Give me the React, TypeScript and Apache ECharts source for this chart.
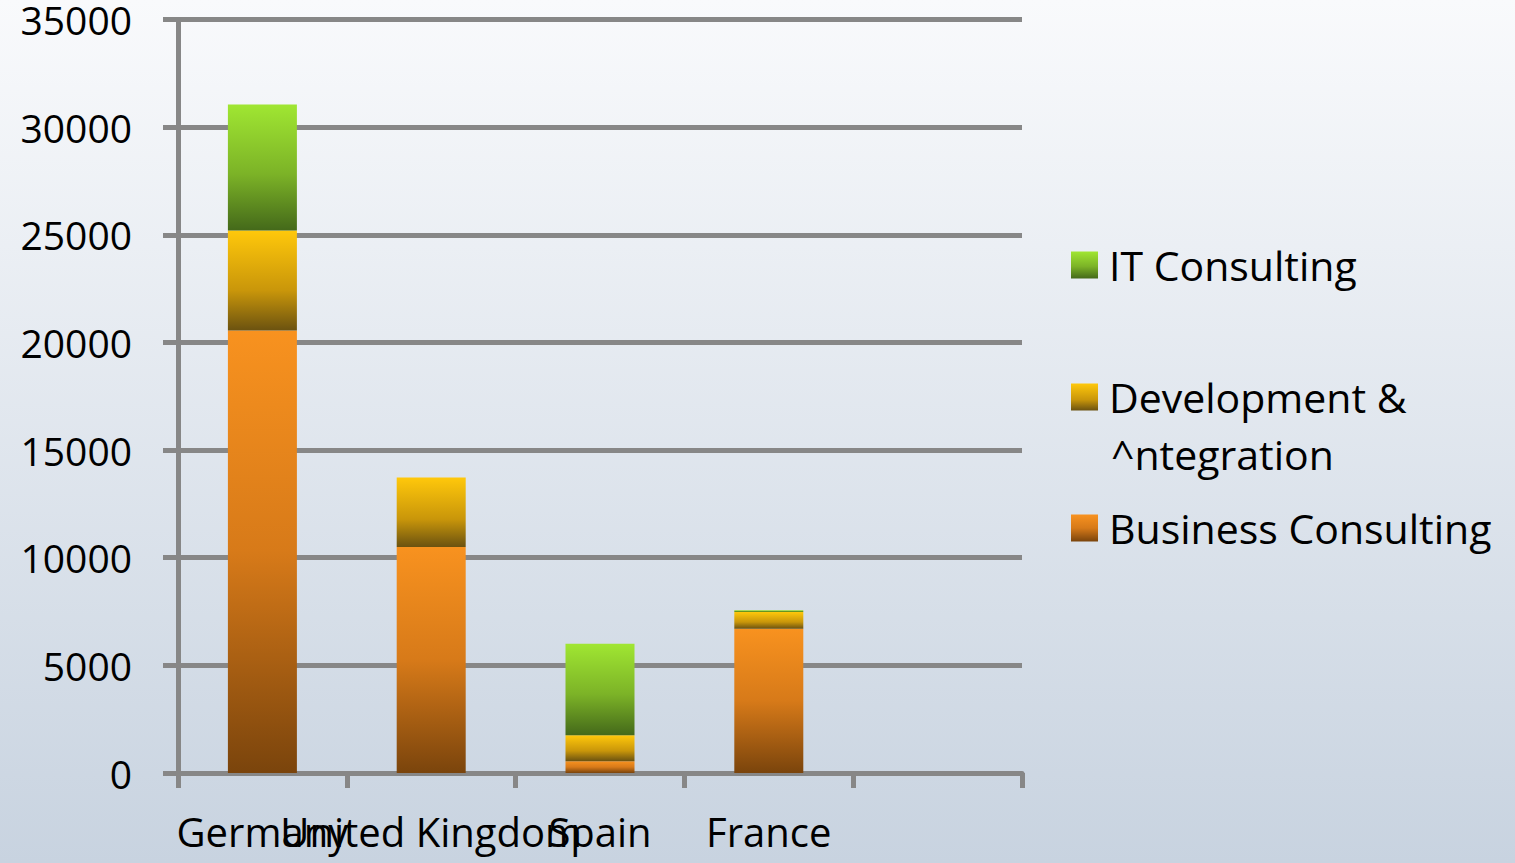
import React, { useEffect, useRef } from "react";
import * as echarts from "echarts";

const categories = ["Germany", "United Kingdom", "Spain", "France", ""];
const businessConsulting = [20550, 10500, 550, 6700];
const devIntegration = [4650, 3230, 1200, 780];
const itConsulting = [5850, 0, 4250, 80];
const yTicks = { min: 0, max: 35000, interval: 5000 };

const FONT = "'Open Sans', 'Noto Sans', sans-serif";

const grad = (stops: [number, string][]) =>
  new echarts.graphic.LinearGradient(
    0,
    0,
    0,
    1,
    stops.map(([offset, color]) => ({ offset, color }))
  );

export default function App() {
  const ref = useRef<HTMLDivElement>(null);
  useEffect(() => {
    if (!ref.current) return;
    const chart = echarts.init(ref.current, null, { renderer: "svg" });
    const bcColor = grad([
      [0, "#f8921f"],
      [0.5, "#d77a19"],
      [1, "#7a440c"],
    ]);
    const devColor = grad([
      [0, "#ffc80b"],
      [0.6, "#c9960a"],
      [1, "#6b5210"],
    ]);
    const itColor = grad([
      [0, "#a0e632"],
      [0.55, "#7cb327"],
      [1, "#44691a"],
    ]);
    const legendBase = {
      left: 1071,
      orient: "vertical",
      itemWidth: 27,
      itemHeight: 27,
      icon: "rect",
      padding: 0,
      selectedMode: false,
      textStyle: {
        fontSize: 41,
        fontFamily: FONT,
        color: "#000",
        lineHeight: 50,
        padding: [0, 0, 0, 6],
      },
    };
    chart.setOption({
      animation: false,
      backgroundColor: grad([
        [0, "#f9fafc"],
        [1, "#c8d3e0"],
      ]),
      grid: { left: 178, right: 493, top: 18, bottom: 90, containLabel: false },
      legend: [
        { ...legendBase, top: 240, data: ["IT Consulting"] },
        {
          ...legendBase,
          top: 372,
          data: ["Development & ^ntegration"],
          formatter: () => "Development &",
        },
        { ...legendBase, top: 503, data: ["Business Consulting"] },
      ],
      graphic: [
        {
          type: "text",
          left: 1111,
          top: 456 - 27,
          style: {
            text: "^ntegration",
            fontSize: 41,
            fontFamily: FONT,
            fill: "#000",
            lineHeight: 50,
          },
        },
      ],
      xAxis: {
        type: "category",
        data: categories,
        axisLine: { lineStyle: { color: "#878787", width: 5 } },
        axisTick: {
          show: true,
          length: 15,
          lineStyle: { color: "#878787", width: 5 },
        },
        axisLabel: {
          interval: 0,
          margin: 38,
          fontSize: 40,
          fontFamily: FONT,
          color: "#000",
        },
      },
      yAxis: {
        type: "value",
        min: yTicks.min,
        max: yTicks.max,
        interval: yTicks.interval,
        axisLine: { show: true, lineStyle: { color: "#878787", width: 5 } },
        axisTick: {
          show: true,
          length: 15,
          lineStyle: { color: "#878787", width: 5 },
        },
        splitLine: { lineStyle: { color: "#878787", width: 5 } },
        axisLabel: {
          margin: 46,
          fontSize: 39,
          lineHeight: 34,
          fontFamily: FONT,
          color: "#000",
          formatter: (v: number) => String(v),
        },
      },
      series: [
        {
          name: "Business Consulting",
          type: "bar",
          stack: "total",
          barWidth: 69,
          data: businessConsulting,
          itemStyle: { color: bcColor },
        },
        {
          name: "Development & ^ntegration",
          type: "bar",
          stack: "total",
          barWidth: 69,
          data: devIntegration,
          itemStyle: { color: devColor },
        },
        {
          name: "IT Consulting",
          type: "bar",
          stack: "total",
          barWidth: 69,
          data: itConsulting,
          itemStyle: { color: itColor },
        },
      ],
    });
    return () => chart.dispose();
  }, []);
  return (
    <div
      ref={ref}
      style={{ position: "absolute", left: 0, top: 0, width: 1515, height: 863 }}
    />
  );
}
